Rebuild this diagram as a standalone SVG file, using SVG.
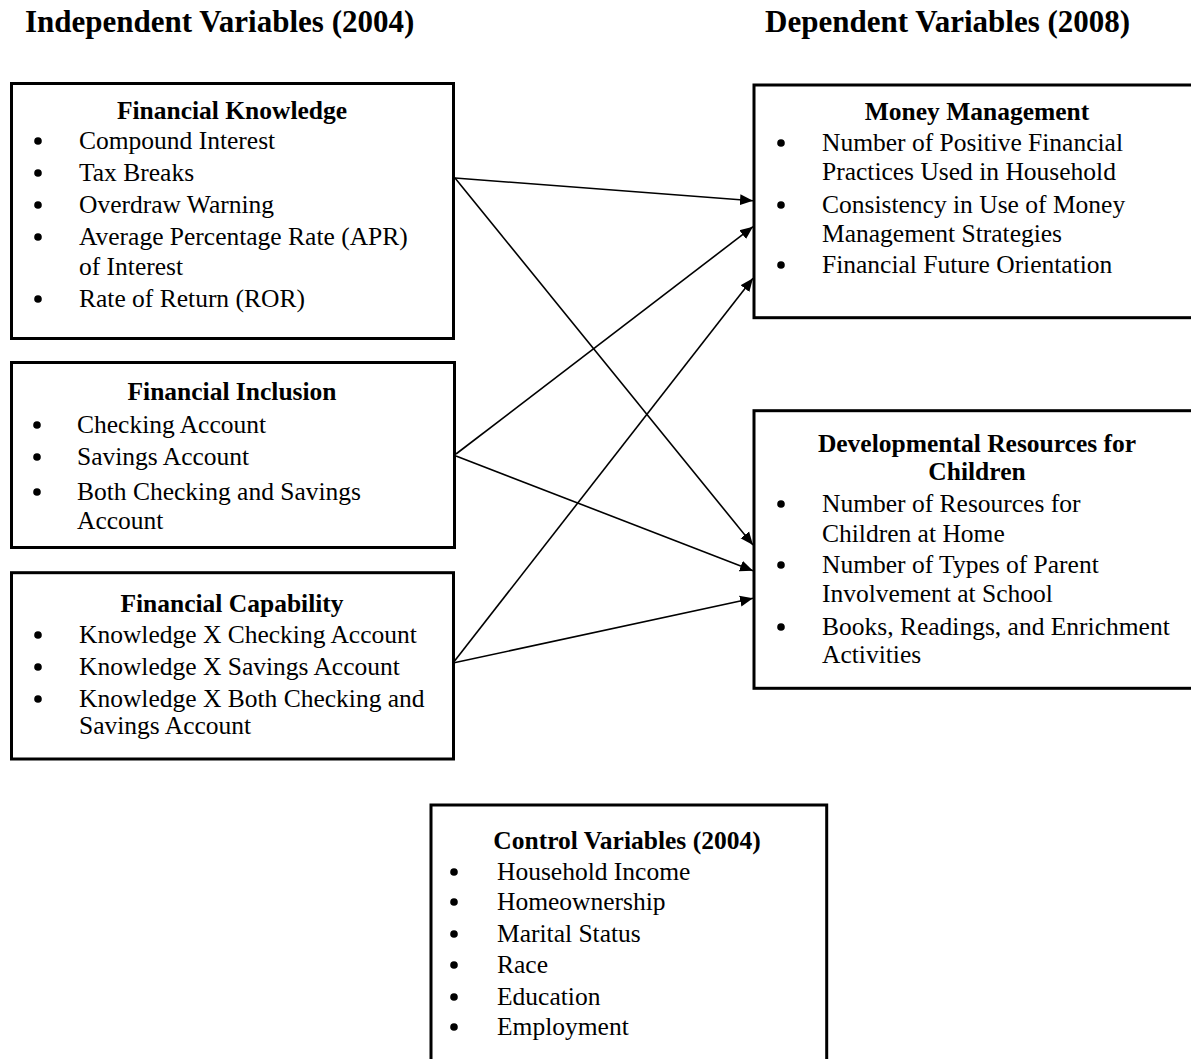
<svg xmlns="http://www.w3.org/2000/svg" width="1191" height="1059" viewBox="0 0 1191 1059">
<defs>
<style>
.box{fill:#fff;stroke:#000;stroke-width:3}
text{font-family:"Liberation Serif","Times New Roman",serif;fill:#000}
.hd{font-size:31px;font-weight:bold}
.t{font-size:25.5px;font-weight:bold;text-anchor:middle}
.i{font-size:25.5px}
.b{fill:#000}
.c{stroke:#000;stroke-width:1.6;fill:none;marker-end:url(#ah)}
</style>
<marker id="ah" markerUnits="userSpaceOnUse" markerWidth="14" markerHeight="12" refX="13" refY="5.5" orient="auto" viewBox="0 0 14 11">
<path d="M0,0 L13,5.5 L0,11 z" fill="#000"/>
</marker>
</defs>
<rect width="1191" height="1059" fill="#fff"/>
<text class="hd" x="25" y="32">Independent Variables (2004)</text>
<text class="hd" x="765" y="32">Dependent Variables (2008)</text>

<g id="financial-knowledge">
<rect class="box" x="11.5" y="83.5" width="442" height="255"/>
<text class="t" x="232" y="119">Financial Knowledge</text>
<circle class="b" cx="38" cy="141" r="3.8"/><text class="i" x="79" y="149">Compound Interest</text>
<circle class="b" cx="38" cy="173" r="3.8"/><text class="i" x="79" y="181">Tax Breaks</text>
<circle class="b" cx="38" cy="205" r="3.8"/><text class="i" x="79" y="213">Overdraw Warning</text>
<circle class="b" cx="38" cy="237" r="3.8"/><text class="i" x="79" y="245">Average Percentage Rate (APR)</text>
<text class="i" x="79" y="275">of Interest</text>
<circle class="b" cx="38" cy="299" r="3.8"/><text class="i" x="79" y="307">Rate of Return (ROR)</text>
</g>

<g id="financial-inclusion">
<rect class="box" x="11.5" y="362.5" width="443" height="185"/>
<text class="t" x="232" y="400">Financial Inclusion</text>
<circle class="b" cx="37" cy="425" r="3.8"/><text class="i" x="77" y="433">Checking Account</text>
<circle class="b" cx="37" cy="457" r="3.8"/><text class="i" x="77" y="465">Savings Account</text>
<circle class="b" cx="37" cy="492" r="3.8"/><text class="i" x="77" y="500">Both Checking and Savings</text>
<text class="i" x="77" y="529">Account</text>
</g>

<g id="financial-capability">
<rect class="box" x="11.5" y="572.7" width="442" height="186.3"/>
<text class="t" x="232" y="612">Financial Capability</text>
<circle class="b" cx="38" cy="635" r="3.8"/><text class="i" x="79" y="643">Knowledge X Checking Account</text>
<circle class="b" cx="38" cy="667" r="3.8"/><text class="i" x="79" y="675">Knowledge X Savings Account</text>
<circle class="b" cx="38" cy="699" r="3.8"/><text class="i" x="79" y="707">Knowledge X Both Checking and</text>
<text class="i" x="79" y="734">Savings Account</text>
</g>

<g id="money-management">
<rect class="box" x="754" y="85" width="450" height="232.7"/>
<text class="t" x="977" y="120">Money Management</text>
<circle class="b" cx="781" cy="143" r="3.8"/><text class="i" x="822" y="151">Number of Positive Financial</text>
<text class="i" x="822" y="180">Practices Used in Household</text>
<circle class="b" cx="781" cy="205" r="3.8"/><text class="i" x="822" y="213">Consistency in Use of Money</text>
<text class="i" x="822" y="242">Management Strategies</text>
<circle class="b" cx="781" cy="265" r="3.8"/><text class="i" x="822" y="273">Financial Future Orientation</text>
</g>

<g id="developmental-resources">
<rect class="box" x="754" y="410.7" width="450" height="277.6"/>
<text class="t" x="977" y="452">Developmental Resources for</text>
<text class="t" x="977" y="480">Children</text>
<circle class="b" cx="781" cy="504" r="3.8"/><text class="i" x="822" y="512">Number of Resources for</text>
<text class="i" x="822" y="542">Children at Home</text>
<circle class="b" cx="781" cy="565" r="3.8"/><text class="i" x="822" y="573">Number of Types of Parent</text>
<text class="i" x="822" y="602">Involvement at School</text>
<circle class="b" cx="781" cy="627" r="3.8"/><text class="i" x="822" y="635">Books, Readings, and Enrichment</text>
<text class="i" x="822" y="663">Activities</text>
</g>

<g id="control-variables">
<rect class="box" x="431" y="805" width="395.7" height="270"/>
<text class="t" x="627" y="849">Control Variables (2004)</text>
<circle class="b" cx="454" cy="872" r="3.8"/><text class="i" x="497" y="880">Household Income</text>
<circle class="b" cx="454" cy="902" r="3.8"/><text class="i" x="497" y="910">Homeownership</text>
<circle class="b" cx="454" cy="934" r="3.8"/><text class="i" x="497" y="942">Marital Status</text>
<circle class="b" cx="454" cy="965" r="3.8"/><text class="i" x="497" y="973">Race</text>
<circle class="b" cx="454" cy="997" r="3.8"/><text class="i" x="497" y="1005">Education</text>
<circle class="b" cx="454" cy="1027" r="3.8"/><text class="i" x="497" y="1035">Employment</text>
</g>

<g id="connectors">
<line class="c" x1="455" y1="178" x2="753" y2="200.7"/>
<line class="c" x1="455" y1="178" x2="753" y2="545"/>
<line class="c" x1="456" y1="454" x2="753" y2="226.7"/>
<line class="c" x1="456" y1="456" x2="753" y2="570.7"/>
<line class="c" x1="453" y1="663" x2="753" y2="278.3"/>
<line class="c" x1="453" y1="663" x2="753" y2="598.3"/>
</g>
</svg>
